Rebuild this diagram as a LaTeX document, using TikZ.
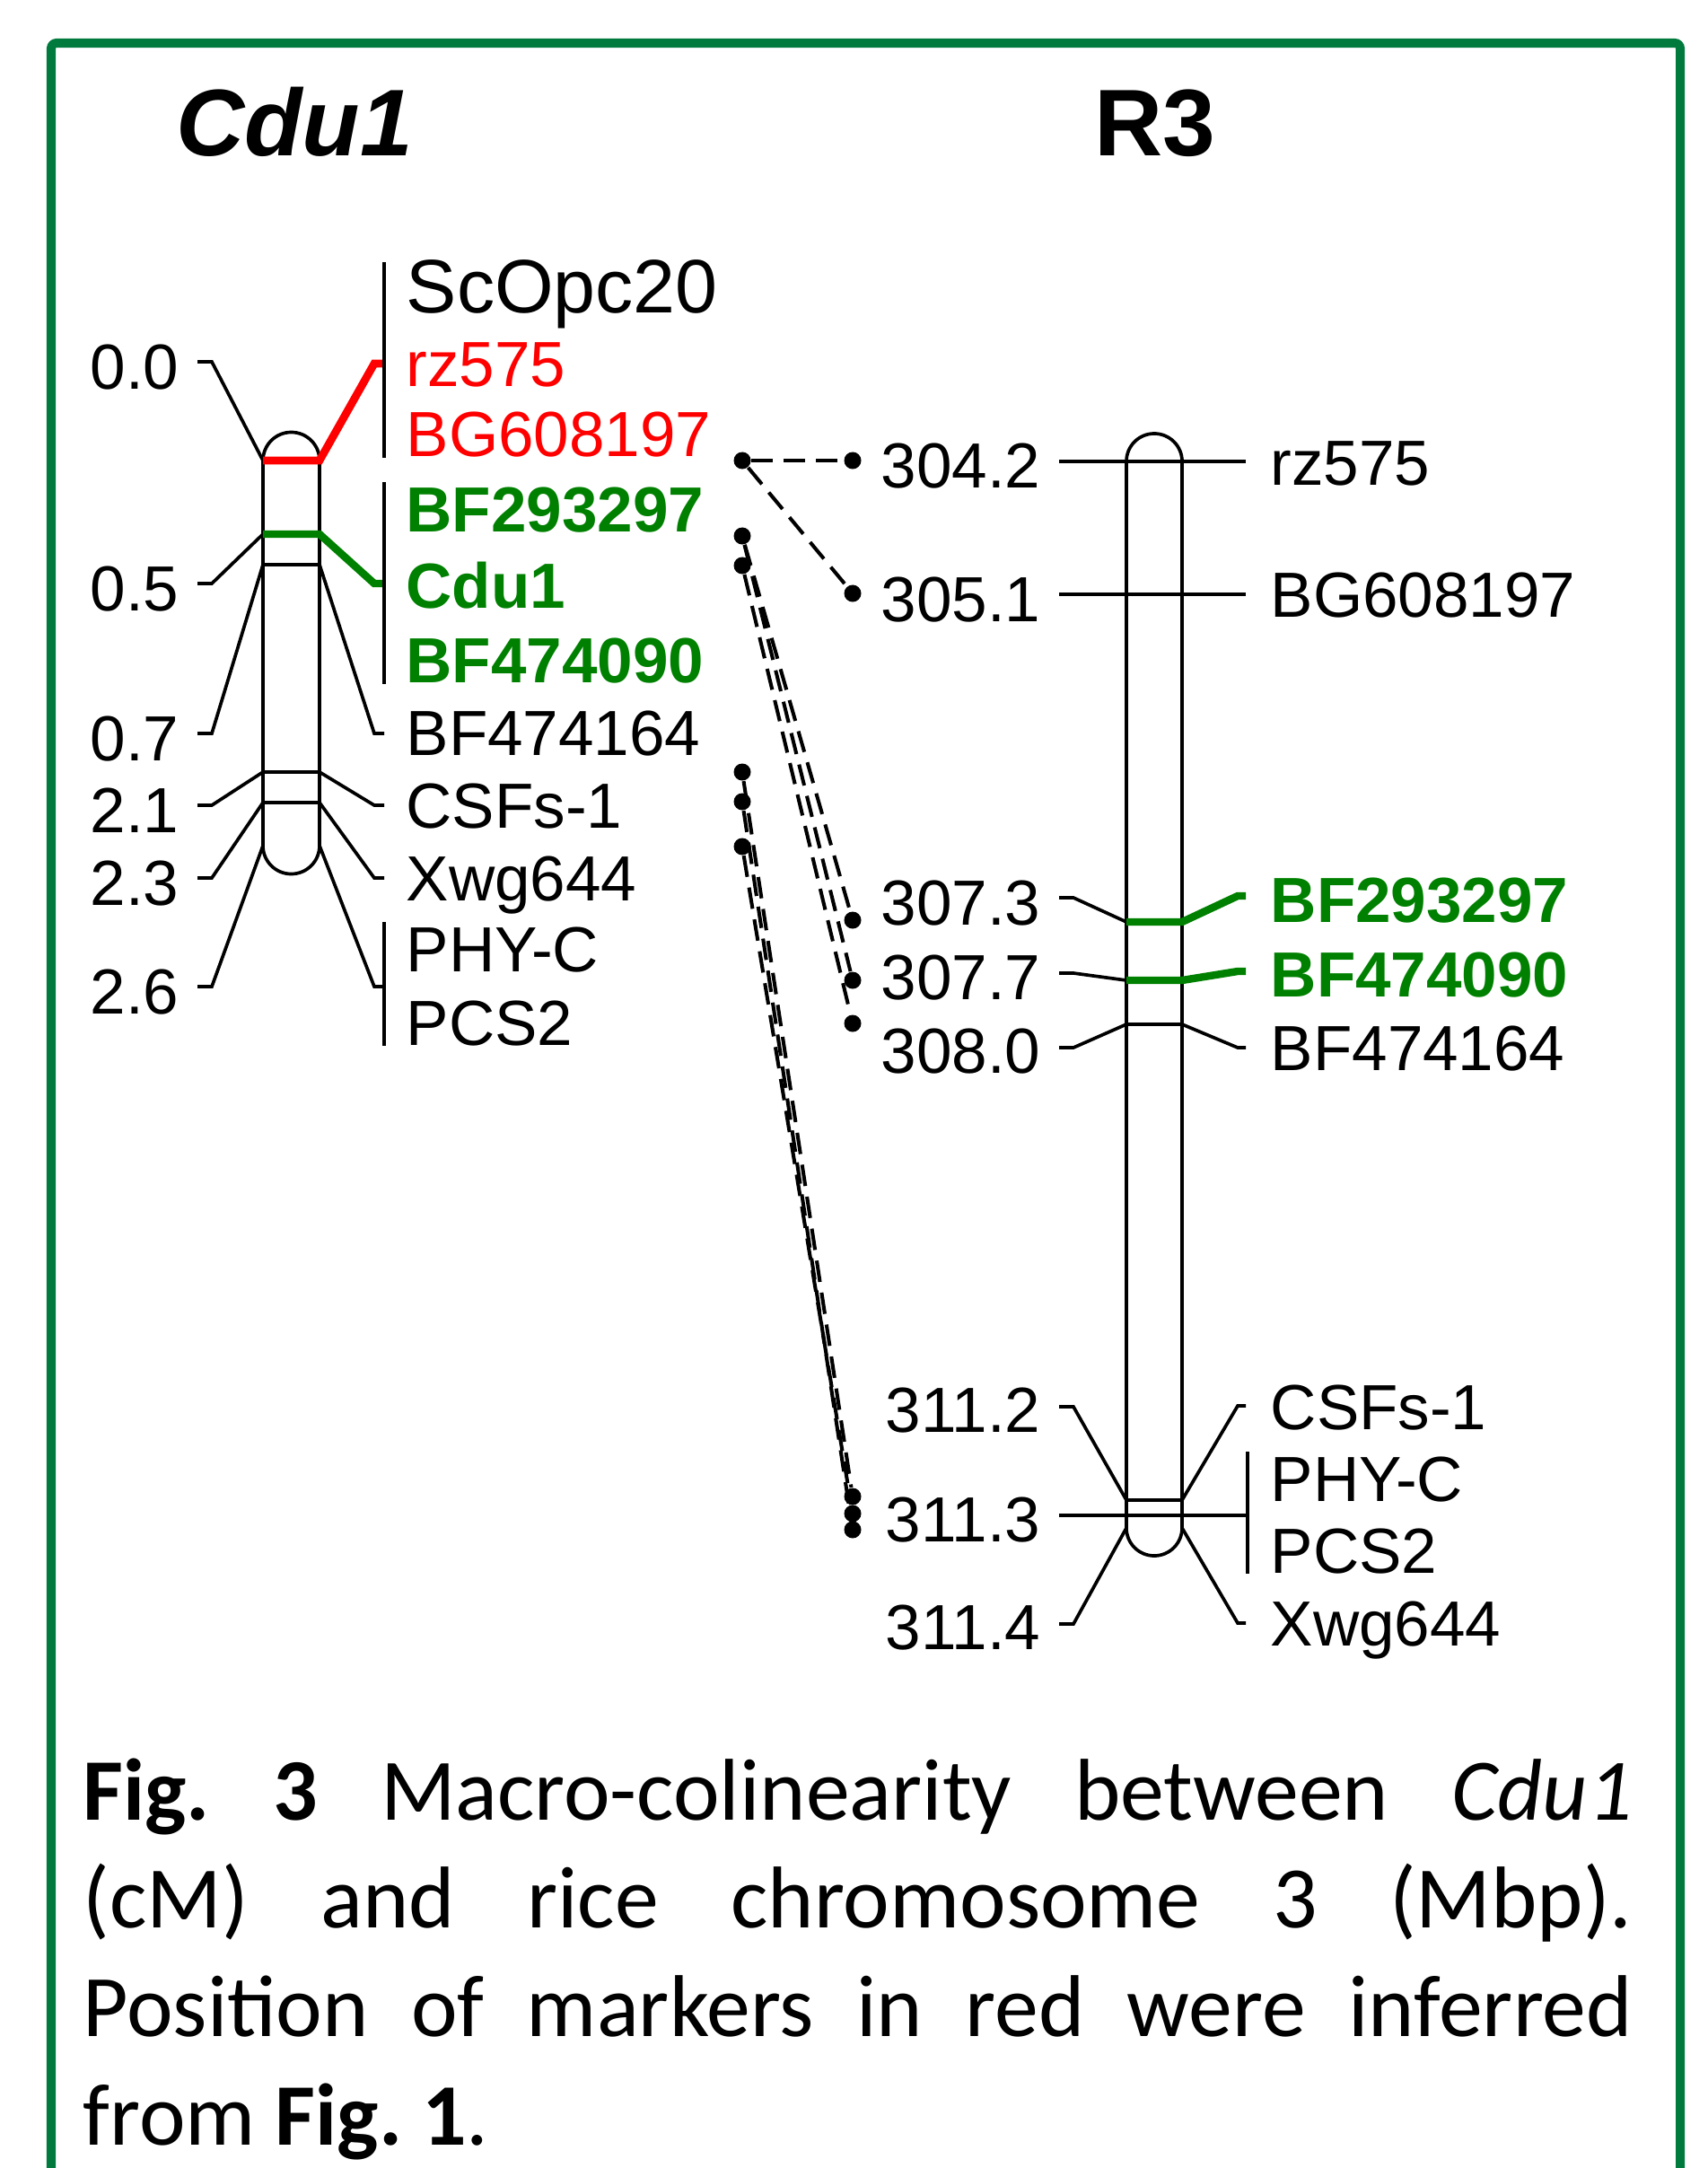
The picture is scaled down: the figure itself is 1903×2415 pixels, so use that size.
\documentclass[tikz,border=0pt]{standalone}
\usepackage{fontspec}
\setmainfont{Liberation Sans}
\newfontfamily\capfont{Carlito}
\usepackage{xcolor}
\usepackage{tikz}
\usetikzlibrary{positioning, calc}

\definecolor{framegreen}{RGB}{0,122,61}
\definecolor{markgreen}{RGB}{0,128,0}
\definecolor{markred}{RGB}{255,0,0}
\newcommand{\mapfont}{\fontsize{20.2}{24}\selectfont}

\begin{document}
\begin{tikzpicture}[x=0.01cm, y=-0.01cm,
        every node/.style={inner sep=0pt, font=\mapfont},
        chrom/.style={line width=1.05pt},
        tickline/.style={line width=1.05pt},
        redline/.style={markred, line width=2.5pt},
        grnline/.style={markgreen, line width=2.4pt},
        mdot/.style={circle, fill=black, minimum size=0.19cm},
        link/.style={line width=1.15pt, dash pattern=on 0.24cm off 0.12cm},
        num/.style={anchor=base east},
        mname/.style={anchor=base west},
        titlefont/.style={font=\fontsize{30}{36}\selectfont\bfseries, anchor=base}]
    \useasboundingbox (0,0) rectangle (1903,2415);
    \draw[framegreen, line width=0.1cm, rounded corners=0.06cm] (57,2440) -- (57,48) -- (1872,48) -- (1872,2440);

    \node[titlefont] (tcdu) at (328,173) {\textit{Cdu1}};
    \node[titlefont] (tr3) at (1287,173) {R3};

    % Cdu1 map (cM)
    \draw[chrom] (293,942) -- (293,513) arc[start angle=180, end angle=0, radius=0.315cm]
        -- (356,942) arc[start angle=0, end angle=-180, radius=0.315cm];
    \foreach \c in {629,860,894} \draw[chrom] (293,\c) -- (356,\c);
    \foreach \lab/\t/\c [count=\i] in {0.0/403/513, 0.5/650/595, 0.7/817/629, 2.1/897/860, 2.3/978/894, 2.6/1099/942}{
        \draw[tickline] (220,\t) -- (236,\t) -- (293,\c);
        \node[num] (cm\i) at (200,\t+30) {\lab};
    }
    \foreach \t/\c in {817/629, 897/860, 978/894, 1099/942}
        \draw[tickline] (356,\c) -- (417,\t) -- (428,\t);
    \draw[redline] (293,513) -- (356,513) -- (417,405) -- (428,405);
    \draw[grnline] (293,595) -- (356,595) -- (417,650) -- (428,650);
    \draw[tickline] (428,292) -- (428,510) (428,537) -- (428,762) (428,1027) -- (428,1165);

    \node[mname, font=\fontsize{24}{28}\selectfont] (ma1) at (452,348) {ScOpc20};
    \node[mname, text=markred] (ma2) at (452,430) {rz575};
    \node[mname, text=markred] (ma3) at (452,508) {BG608197};
    \node[mname, text=markgreen, font=\mapfont\bfseries] (ma4) at (452,592) {BF293297};
    \node[mname, text=markgreen, font=\mapfont\bfseries] (ma5) at (452,677) {Cdu1};
    \node[mname, text=markgreen, font=\mapfont\bfseries] (ma6) at (452,760) {BF474090};
    \foreach \nm/\b [count=\i from 7] in {BF474164/841, CSFs-1/922, Xwg644/1003, PHY-C/1082, PCS2/1164}
        \node[mname] (ma\i) at (452,\b) {\nm};

    % rice chromosome 3 (Mbp)
    \draw[chrom] (1255,1702) -- (1255,514) arc[start angle=180, end angle=0, radius=0.31cm]
        -- (1317,1702) arc[start angle=0, end angle=-180, radius=0.31cm];
    \draw[chrom] (1255,1141) -- (1317,1141) (1255,1671) -- (1317,1671);
    \foreach \t in {514,662} \draw[tickline] (1180,\t) -- (1388,\t);
    \draw[tickline] (1180,1688) -- (1390,1688) (1390,1617) -- (1390,1753);
    \foreach \t/\c in {1000/1027, 1084/1092, 1167/1141, 1567/1671, 1809/1702}
        \draw[tickline] (1180,\t) -- (1196,\t) -- (1255,\c);
    \foreach \t/\c in {1167/1141, 1566/1671, 1808/1702}
        \draw[tickline] (1317,\c) -- (1379,\t) -- (1388,\t);
    \draw[grnline] (1255,1027) -- (1317,1027) -- (1379,998) -- (1388,998);
    \draw[grnline] (1255,1092) -- (1317,1092) -- (1379,1082) -- (1388,1082);

    \foreach \lab/\b [count=\i] in {304.2/543, 305.1/692, 307.3/1030, 307.7/1113, 308.0/1195, 311.2/1595, 311.3/1717, 311.4/1837}
        \node[num] (mb\i) at (1160,\b) {\lab};
    \foreach \nm/\b [count=\i] in {rz575/540, BG608197/687, BF474164/1192, CSFs-1/1592, PHY-C/1672, PCS2/1752, Xwg644/1833}
        \node[mname] (rb\i) at (1415,\b) {\nm};
    \node[mname, text=markgreen, font=\mapfont\bfseries] (rg1) at (1415,1027) {BF293297};
    \node[mname, text=markgreen, font=\mapfont\bfseries] (rg2) at (1415,1110) {BF474090};

    % colinearity links
    \foreach \y [count=\i] in {513,597,630,860,893,943} \node[mdot] (a\i) at (827,\y) {};
    \foreach \y [count=\i] in {513,661,1025,1092,1140,1667,1686,1704} \node[mdot] (b\i) at (950,\y) {};
    \foreach \p/\q in {1/1, 1/2, 2/3, 2/4, 3/5, 4/6, 5/8, 6/7}
        \draw[link] (a\p) -- (b\q);

    \node[anchor=base west, text width=17.25cm, align=justify,
          font=\capfont\fontsize{27.8}{34.4}\selectfont] (cap) at (92,2027)
        {\hbadness=10000 \frenchspacing \textbf{Fig. 3} Macro-colinearity between \textit{Cdu1}\linebreak
         (cM) and rice chromosome 3 (Mbp).\linebreak
         Position of markers in red were inferred\linebreak
         from \textbf{Fig. 1}.};
\end{tikzpicture}
\end{document}
